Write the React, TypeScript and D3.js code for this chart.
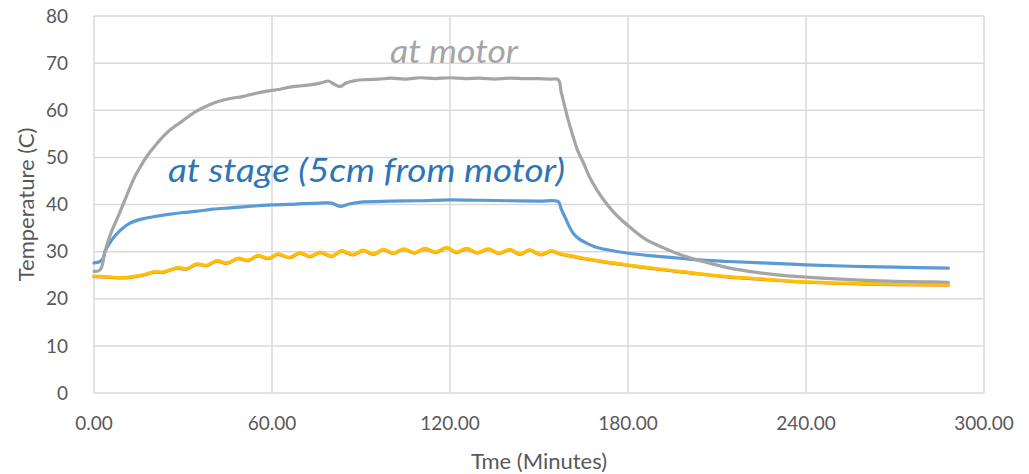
import React from "react";
import * as d3 from "d3";

// ---- data (time in minutes, temperature in °C) ----
const motorT = [0, 1.5, 2.5, 3.7, 5.5, 7.6, 10, 12, 14, 16, 18, 21, 24, 27, 30, 34, 38, 42, 46, 50, 54, 58, 62, 66, 70, 74, 77, 79, 81, 83, 85, 88, 92, 96, 100, 105, 110, 115, 120, 125, 130, 135, 140, 145, 150, 154, 156.5, 157.5, 158.2, 160, 161.5, 163, 165, 167, 169.4, 172, 175, 178, 181, 186, 192, 197, 203, 209, 214.4, 222, 231, 240, 250, 260, 270, 280, 288];
const motorV = [25.8, 25.9, 26.6, 30, 33.6, 36.7, 40.3, 43.4, 46.2, 48.4, 50.4, 52.8, 54.9, 56.5, 57.8, 59.6, 60.9, 61.9, 62.5, 62.9, 63.5, 64.0, 64.4, 64.9, 65.2, 65.5, 65.9, 66.2, 65.5, 65.0, 65.8, 66.3, 66.5, 66.6, 66.8, 66.6, 66.9, 66.7, 66.9, 66.7, 66.8, 66.6, 66.8, 66.7, 66.7, 66.6, 66.5, 63.8, 62.0, 57.6, 54.4, 51.5, 48.8, 45.9, 43.2, 40.8, 38.5, 36.6, 35.0, 32.6, 30.8, 29.5, 28.3, 27.3, 26.5, 25.7, 25.0, 24.6, 24.2, 23.9, 23.7, 23.6, 23.5];

const stageT = [0, 2, 3, 3.7, 6, 8, 12, 16, 20, 25, 30, 35, 40, 46, 52, 60, 68, 76, 80, 83, 86, 90, 100, 110, 120, 130, 140, 150, 156.5, 157.5, 158.7, 160, 161.5, 163.5, 166, 169, 173, 180.7, 190, 197.5, 205, 214, 225, 240, 255, 270, 288];
const stageV = [27.6, 27.9, 28.5, 30, 32.5, 34, 36, 36.9, 37.4, 37.9, 38.3, 38.6, 39.0, 39.3, 39.6, 39.9, 40.1, 40.3, 40.3, 39.6, 40.1, 40.5, 40.7, 40.8, 41.0, 40.9, 40.8, 40.7, 40.6, 39.0, 37.4, 35.6, 33.9, 32.7, 31.8, 31.0, 30.4, 29.6, 29.0, 28.6, 28.2, 27.9, 27.6, 27.2, 26.9, 26.7, 26.5];

const sensorT = [0, 4, 9, 13, 17.8, 20, 23.4, 27.9, 31.2, 34.6, 38, 41.3, 44.7, 48.6, 52, 55.3, 58.7, 62, 66, 69.4, 72.8, 76.2, 80.1, 83.5, 87.2, 90.8, 94.2, 97.5, 100.9, 104.3, 108, 111.6, 115.2, 118.9, 122.2, 125.6, 129.2, 132.9, 136.5, 140.2, 143.5, 146.9, 150.6, 154.2, 157, 161, 165, 170, 175, 181, 187, 195, 203, 214, 225, 240, 255, 270, 288];
const yellowV = [24.8, 24.7, 24.5, 24.7, 25.3, 25.7, 25.7, 26.6, 26.4, 27.4, 27.1, 28.1, 27.6, 28.6, 28.2, 29.2, 28.6, 29.5, 28.8, 29.8, 29.0, 29.9, 29.1, 30.2, 29.4, 30.3, 29.5, 30.5, 29.7, 30.6, 29.8, 30.7, 29.9, 30.9, 29.9, 30.7, 29.8, 30.6, 29.7, 30.5, 29.5, 30.4, 29.4, 30.2, 29.6, 29.1, 28.6, 28.1, 27.6, 27.1, 26.6, 26.0, 25.4, 24.7, 24.2, 23.6, 23.3, 23.1, 23.0];
const orangeV = [24.7, 24.6, 24.4, 24.6, 25.2, 25.6, 25.6, 26.5, 26.3, 27.3, 27.0, 28.0, 27.5, 28.5, 28.1, 29.1, 28.5, 29.4, 28.7, 29.7, 28.9, 29.8, 29.0, 30.1, 29.3, 30.2, 29.4, 30.4, 29.6, 30.5, 29.7, 30.6, 29.8, 30.8, 29.8, 30.6, 29.7, 30.5, 29.6, 30.4, 29.4, 30.3, 29.3, 30.1, 29.5, 29.0, 28.5, 28.0, 27.5, 27.0, 26.5, 25.9, 25.3, 24.6, 24.1, 23.5, 23.2, 23.0, 22.9];

const xTicks = [0, 60, 120, 180, 240, 300];
const yTicks = [0, 10, 20, 30, 40, 50, 60, 70, 80];

const W = 1029;
const H = 474;
const plot = { left: 94, right: 984, top: 16, bottom: 393 };

export default function App() {
  const x = d3.scaleLinear().domain([0, 300]).range([plot.left, plot.right]);
  const y = d3.scaleLinear().domain([0, 80]).range([plot.bottom, plot.top]);
  const line = d3
    .line<[number, number]>()
    .x((d) => x(d[0]))
    .y((d) => y(d[1]))
    .curve(d3.curveCatmullRom.alpha(0.5));
  const zip = (t: number[], v: number[]) => t.map((tt, i) => [tt, v[i]] as [number, number]);

  const series = [
    { t: sensorT, v: orangeV, color: "#ed7d31", w: 3.2 },
    { t: sensorT, v: yellowV, color: "#ffc000", w: 3.2 },
    { t: stageT, v: stageV, color: "#5b9bd5", w: 3.2 },
    { t: motorT, v: motorV, color: "#a5a5a5", w: 3.2 },
  ];

  const font = "Lato, 'Open Sans', sans-serif";

  return (
    <svg
      width={W}
      height={H}
      style={{ position: "absolute", left: 0, top: 0, background: "#fff" }}
      fontFamily={font}
    >
      <rect x={0} y={0} width={W} height={H} fill="#fff" />
      {yTicks.map((t) => (
        <line key={"gy" + t} x1={plot.left} x2={plot.right} y1={y(t)} y2={y(t)} stroke="#d9d9d9" strokeWidth={1.5} />
      ))}
      {xTicks.map((t) => (
        <line key={"gx" + t} x1={x(t)} x2={x(t)} y1={plot.top} y2={plot.bottom} stroke="#d9d9d9" strokeWidth={1.5} />
      ))}
      {yTicks.map((t) => (
        <text key={"ty" + t} x={plot.left - 26} y={y(t)} dy="0.35em" textAnchor="end" fontSize={19} fill="#595959">
          {t}
        </text>
      ))}
      {xTicks.map((t) => (
        <text key={"tx" + t} x={x(t)} y={430} textAnchor="middle" fontSize={19} fill="#595959">
          {t.toFixed(2)}
        </text>
      ))}
      <text x={(plot.left + plot.right) / 2} y={469} textAnchor="middle" fontSize={22} fill="#595959">
        Tme (Minutes)
      </text>
      <text
        transform={`translate(34, ${(plot.top + plot.bottom) / 2}) rotate(-90)`}
        textAnchor="middle"
        fontSize={22}
        fill="#595959"
      >
        Temperature (C)
      </text>
      {series.map((s, i) => (
        <path
          key={i}
          d={line(zip(s.t, s.v)) || ""}
          fill="none"
          stroke={s.color}
          strokeWidth={s.w}
          strokeLinejoin="round"
          strokeLinecap="round"
        />
      ))}
      <text x={390} y={63} fontSize={33} fontStyle="italic" fill="#a5a5a5" textLength={128} lengthAdjust="spacingAndGlyphs">
        at motor
      </text>
      <text x={168} y={182} fontSize={33} fontStyle="italic" fill="#2e75b6" textLength={397} lengthAdjust="spacingAndGlyphs">
        at stage (5cm from motor)
      </text>
    </svg>
  );
}
